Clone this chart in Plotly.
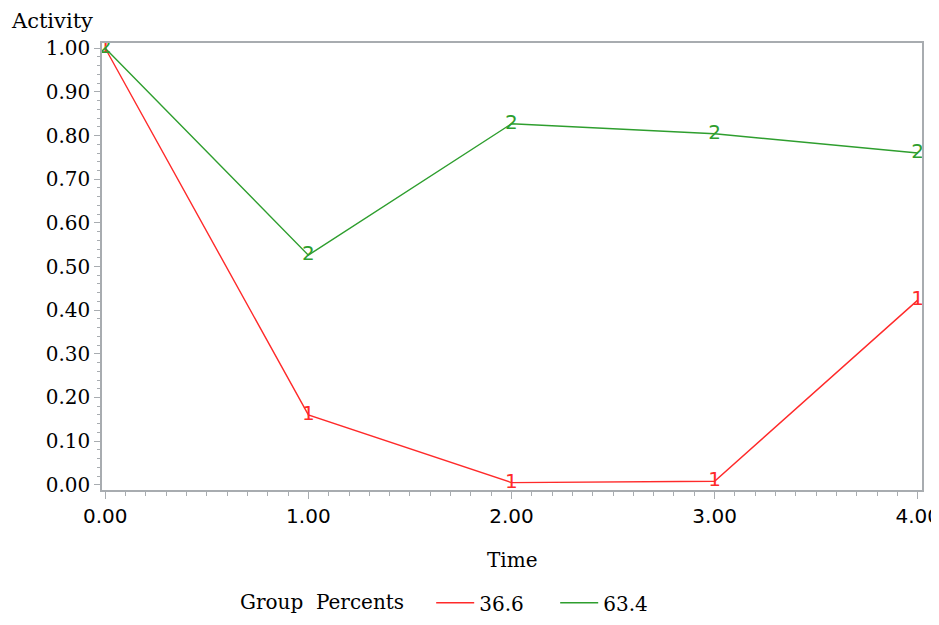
import plotly.graph_objects as go

time = [0, 1, 2, 3, 4]
group_labels = ["36.6", "63.4"]
group_symbols = ["1", "2"]
activity_366 = [1.00, 0.16, 0.005, 0.008, 0.423]
activity_634 = [1.00, 0.526, 0.827, 0.804, 0.760]
colors = ["#ff2a2a", "#2e9e2e"]

x_tickvals = [0, 1, 2, 3, 4]
x_ticktext = ["0.00", "1.00", "2.00", "3.00", "4.00"]
y_tickvals = [0.0, 0.1, 0.2, 0.3, 0.4, 0.5, 0.6, 0.7, 0.8, 0.9, 1.0]
y_ticktext = ["0.00", "0.10", "0.20", "0.30", "0.40", "0.50", "0.60", "0.70", "0.80", "0.90", "1.00"]

fig = go.Figure()
series = [activity_366, activity_634]
for vals, lab, sym, col in zip(series, group_labels, group_symbols, colors):
    fig.add_trace(go.Scatter(x=time, y=vals, mode="lines", name=lab,
                             line=dict(color=col, width=1.4), showlegend=True))
    fig.add_trace(go.Scatter(x=time, y=vals, mode="text", text=[sym] * len(time),
                             textposition="middle center",
                             textfont=dict(family="DejaVu Sans", size=20, color=col),
                             showlegend=False, hoverinfo="skip"))

serif = "DejaVu Serif"
axcol = "#a8acb0"
W, H = 931, 617
fig.update_layout(
    width=W, height=H,
    margin=dict(l=94, r=17, t=35, b=135, autoexpand=False),
    paper_bgcolor="white", plot_bgcolor="white",
    xaxis=dict(range=[-0.016, 4.021], tickvals=x_tickvals, ticktext=x_ticktext,
               showgrid=False, zeroline=False, showline=True, linecolor=axcol, linewidth=1.5,
               mirror=True, ticks="outside", ticklen=7, tickcolor=axcol,
               ticklabeloverflow="allow", automargin=False,
               tickfont=dict(family="DejaVu Sans", size=20, color="black"),
               minor=dict(dtick=0.1, tick0=0, ticks="outside", ticklen=4, tickcolor=axcol)),
    yaxis=dict(range=[-0.012, 1.012], tickvals=y_tickvals, ticktext=y_ticktext,
               showgrid=False, zeroline=False, showline=True, linecolor=axcol, linewidth=1.5,
               mirror=True, ticks="outside", ticklen=6, tickcolor=axcol, automargin=False,
               tickfont=dict(family=serif, size=20, color="black"),
               minor=dict(dtick=0.02, tick0=0, ticks="outside", ticklen=3, tickcolor=axcol)),
    legend=dict(orientation="h", xref="container", yref="container",
                x=0.247, xanchor="left", y=0.036, yanchor="middle",
                font=dict(family=serif, size=20, color="black"),
                title=dict(text="Group  Percents&nbsp;&nbsp;&nbsp;",
                           font=dict(family=serif, size=20, color="black")),
                itemwidth=38,
                entrywidth=71, entrywidthmode="pixels", bgcolor="rgba(0,0,0,0)"),
    annotations=[
        dict(text="Activity", xref="paper", yref="paper", x=-0.0085, y=1.05,
             xanchor="right", yanchor="middle", showarrow=False,
             font=dict(family=serif, size=21, color="black")),
        dict(text="Time", xref="paper", yref="paper", x=0.5, y=-0.157,
             xanchor="center", yanchor="middle", showarrow=False,
             font=dict(family=serif, size=20, color="black")),
    ],
)

fig.write_html("out.html")
